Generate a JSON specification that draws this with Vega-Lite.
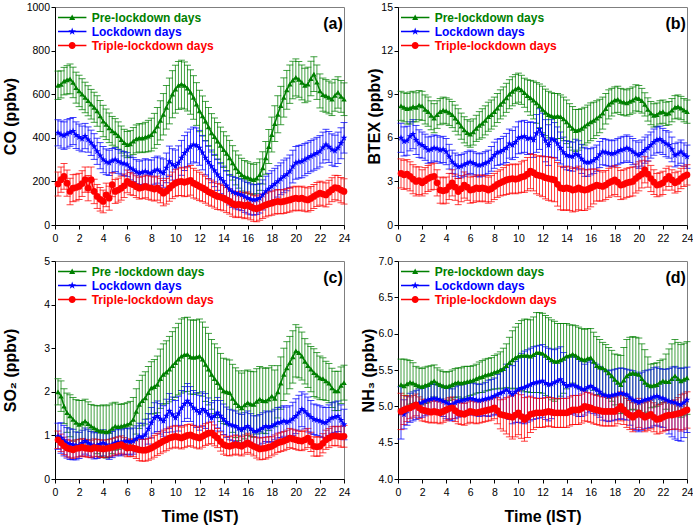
{
"$schema": "https://vega.github.io/schema/vega-lite/v6.json",
"padding": {"left": 1, "top": 1, "right": 0, "bottom": 0},
"config": {
  "font": "Liberation Sans",
  "view": {"stroke": "#7f7f7f", "strokeWidth": 1},
  "axis": {"grid": false, "labelFont": "Liberation Sans", "labelFontSize": 10.5, "labelColor": "#000", "titleFont": "Liberation Sans", "titleFontSize": 16, "titleFontWeight": "bold", "titleColor": "#000", "tickSize": 4, "tickColor": "#000", "domainColor": "#000", "labelFlush": false, "labelOverlap": false},
  "axisX": {"labelPadding": 4, "titlePadding": 11},
  "axisY": {"labelPadding": 1.5},
  "legend": {"orient": "top-left", "offset": 3, "title": null, "padding": 0, "symbolSize": 225, "symbolStrokeWidth": 0, "symbolOpacity": 1, "labelOffset": 18.7, "labelFontSize": 12, "labelFontWeight": "bold", "labelFont": "Liberation Sans", "rowPadding": 0}
},
"datasets": {
"a": [
{"t":0.25,"s":"P","m":641,"e":65},{"t":0.5,"s":"P","m":645,"e":62},{"t":0.75,"s":"P","m":660,"e":63},{"t":1,"s":"P","m":666,"e":65},{"t":1.25,"s":"P","m":670,"e":68},{"t":1.5,"s":"P","m":654,"e":70},{"t":1.75,"s":"P","m":630,"e":71},{"t":2,"s":"P","m":615,"e":72},{"t":2.25,"s":"P","m":600,"e":71},{"t":2.5,"s":"P","m":585,"e":70},{"t":2.75,"s":"P","m":570,"e":69},{"t":3,"s":"P","m":554,"e":68},{"t":3.25,"s":"P","m":540,"e":69},{"t":3.5,"s":"P","m":523,"e":70},{"t":3.75,"s":"P","m":500,"e":71},{"t":4,"s":"P","m":477,"e":72},{"t":4.25,"s":"P","m":462,"e":70},{"t":4.5,"s":"P","m":446,"e":68},{"t":4.75,"s":"P","m":432,"e":66},{"t":5,"s":"P","m":423,"e":65},{"t":5.25,"s":"P","m":410,"e":63},{"t":5.5,"s":"P","m":392,"e":62},{"t":5.75,"s":"P","m":378,"e":61},{"t":6,"s":"P","m":369,"e":60},{"t":6.25,"s":"P","m":372,"e":61},{"t":6.5,"s":"P","m":385,"e":62},{"t":6.75,"s":"P","m":395,"e":64},{"t":7,"s":"P","m":400,"e":65},{"t":7.25,"s":"P","m":398,"e":66},{"t":7.5,"s":"P","m":403,"e":68},{"t":7.75,"s":"P","m":408,"e":72},{"t":8,"s":"P","m":415,"e":75},{"t":8.25,"s":"P","m":432,"e":80},{"t":8.5,"s":"P","m":454,"e":85},{"t":8.75,"s":"P","m":480,"e":90},{"t":9,"s":"P","m":508,"e":95},{"t":9.25,"s":"P","m":540,"e":100},{"t":9.5,"s":"P","m":569,"e":105},{"t":9.75,"s":"P","m":600,"e":108},{"t":10,"s":"P","m":623,"e":110},{"t":10.25,"s":"P","m":640,"e":110},{"t":10.5,"s":"P","m":646,"e":110},{"t":10.75,"s":"P","m":640,"e":108},{"t":11,"s":"P","m":628,"e":105},{"t":11.25,"s":"P","m":610,"e":102},{"t":11.5,"s":"P","m":585,"e":100},{"t":11.75,"s":"P","m":555,"e":98},{"t":12,"s":"P","m":523,"e":95},{"t":12.25,"s":"P","m":500,"e":92},{"t":12.5,"s":"P","m":477,"e":90},{"t":12.75,"s":"P","m":450,"e":89},{"t":13,"s":"P","m":423,"e":88},{"t":13.25,"s":"P","m":405,"e":86},{"t":13.5,"s":"P","m":385,"e":85},{"t":13.75,"s":"P","m":365,"e":84},{"t":14,"s":"P","m":346,"e":82},{"t":14.25,"s":"P","m":328,"e":81},{"t":14.5,"s":"P","m":308,"e":80},{"t":14.75,"s":"P","m":285,"e":79},{"t":15,"s":"P","m":262,"e":78},{"t":15.25,"s":"P","m":245,"e":76},{"t":15.5,"s":"P","m":231,"e":75},{"t":15.75,"s":"P","m":222,"e":74},{"t":16,"s":"P","m":218,"e":72},{"t":16.25,"s":"P","m":212,"e":71},{"t":16.5,"s":"P","m":208,"e":70},{"t":16.75,"s":"P","m":215,"e":71},{"t":17,"s":"P","m":231,"e":72},{"t":17.25,"s":"P","m":262,"e":74},{"t":17.5,"s":"P","m":308,"e":75},{"t":17.75,"s":"P","m":360,"e":78},{"t":18,"s":"P","m":415,"e":80},{"t":18.25,"s":"P","m":465,"e":82},{"t":18.5,"s":"P","m":508,"e":85},{"t":18.75,"s":"P","m":548,"e":88},{"t":19,"s":"P","m":585,"e":90},{"t":19.25,"s":"P","m":620,"e":89},{"t":19.5,"s":"P","m":646,"e":88},{"t":19.75,"s":"P","m":665,"e":86},{"t":20,"s":"P","m":677,"e":85},{"t":20.25,"s":"P","m":668,"e":82},{"t":20.5,"s":"P","m":654,"e":80},{"t":20.75,"s":"P","m":640,"e":79},{"t":21,"s":"P","m":646,"e":78},{"t":21.25,"s":"P","m":672,"e":79},{"t":21.5,"s":"P","m":692,"e":80},{"t":21.75,"s":"P","m":655,"e":79},{"t":22,"s":"P","m":615,"e":78},{"t":22.25,"s":"P","m":598,"e":76},{"t":22.5,"s":"P","m":592,"e":75},{"t":22.75,"s":"P","m":585,"e":75},{"t":23,"s":"P","m":577,"e":75},{"t":23.25,"s":"P","m":595,"e":73},{"t":23.5,"s":"P","m":608,"e":72},{"t":23.75,"s":"P","m":590,"e":73},{"t":24,"s":"P","m":577,"e":75},
{"t":0.25,"s":"L","m":423,"e":60},{"t":0.5,"s":"L","m":415,"e":62},{"t":0.75,"s":"L","m":410,"e":63},{"t":1,"s":"L","m":418,"e":65},{"t":1.25,"s":"L","m":425,"e":64},{"t":1.5,"s":"L","m":431,"e":62},{"t":1.75,"s":"L","m":412,"e":61},{"t":2,"s":"L","m":403,"e":60},{"t":2.25,"s":"L","m":395,"e":59},{"t":2.5,"s":"L","m":408,"e":58},{"t":2.75,"s":"L","m":392,"e":58},{"t":3,"s":"L","m":377,"e":58},{"t":3.25,"s":"L","m":360,"e":59},{"t":3.5,"s":"L","m":338,"e":60},{"t":3.75,"s":"L","m":318,"e":60},{"t":4,"s":"L","m":300,"e":60},{"t":4.25,"s":"L","m":290,"e":59},{"t":4.5,"s":"L","m":285,"e":58},{"t":4.75,"s":"L","m":295,"e":56},{"t":5,"s":"L","m":300,"e":55},{"t":5.25,"s":"L","m":292,"e":55},{"t":5.5,"s":"L","m":285,"e":55},{"t":5.75,"s":"L","m":282,"e":55},{"t":6,"s":"L","m":277,"e":55},{"t":6.25,"s":"L","m":262,"e":55},{"t":6.5,"s":"L","m":254,"e":55},{"t":6.75,"s":"L","m":245,"e":55},{"t":7,"s":"L","m":238,"e":55},{"t":7.25,"s":"L","m":242,"e":56},{"t":7.5,"s":"L","m":246,"e":58},{"t":7.75,"s":"L","m":240,"e":59},{"t":8,"s":"L","m":238,"e":60},{"t":8.25,"s":"L","m":248,"e":61},{"t":8.5,"s":"L","m":254,"e":62},{"t":8.75,"s":"L","m":245,"e":63},{"t":9,"s":"L","m":238,"e":65},{"t":9.25,"s":"L","m":262,"e":68},{"t":9.5,"s":"L","m":292,"e":70},{"t":9.75,"s":"L","m":278,"e":72},{"t":10,"s":"L","m":269,"e":75},{"t":10.25,"s":"L","m":285,"e":78},{"t":10.5,"s":"L","m":308,"e":80},{"t":10.75,"s":"L","m":330,"e":80},{"t":11,"s":"L","m":346,"e":80},{"t":11.25,"s":"L","m":360,"e":80},{"t":11.5,"s":"L","m":369,"e":80},{"t":11.75,"s":"L","m":365,"e":80},{"t":12,"s":"L","m":354,"e":80},{"t":12.25,"s":"L","m":332,"e":79},{"t":12.5,"s":"L","m":308,"e":78},{"t":12.75,"s":"L","m":288,"e":76},{"t":13,"s":"L","m":269,"e":75},{"t":13.25,"s":"L","m":250,"e":74},{"t":13.5,"s":"L","m":231,"e":72},{"t":13.75,"s":"L","m":215,"e":71},{"t":14,"s":"L","m":200,"e":70},{"t":14.25,"s":"L","m":180,"e":70},{"t":14.5,"s":"L","m":162,"e":70},{"t":14.75,"s":"L","m":152,"e":71},{"t":15,"s":"L","m":146,"e":72},{"t":15.25,"s":"L","m":142,"e":72},{"t":15.5,"s":"L","m":138,"e":72},{"t":15.75,"s":"L","m":130,"e":72},{"t":16,"s":"L","m":123,"e":72},{"t":16.25,"s":"L","m":118,"e":71},{"t":16.5,"s":"L","m":115,"e":70},{"t":16.75,"s":"L","m":117,"e":69},{"t":17,"s":"L","m":123,"e":68},{"t":17.25,"s":"L","m":138,"e":69},{"t":17.5,"s":"L","m":154,"e":70},{"t":17.75,"s":"L","m":166,"e":71},{"t":18,"s":"L","m":177,"e":72},{"t":18.25,"s":"L","m":188,"e":72},{"t":18.5,"s":"L","m":200,"e":72},{"t":18.75,"s":"L","m":212,"e":73},{"t":19,"s":"L","m":223,"e":75},{"t":19.25,"s":"L","m":232,"e":75},{"t":19.5,"s":"L","m":246,"e":75},{"t":19.75,"s":"L","m":268,"e":75},{"t":20,"s":"L","m":285,"e":75},{"t":20.25,"s":"L","m":290,"e":75},{"t":20.5,"s":"L","m":292,"e":75},{"t":20.75,"s":"L","m":300,"e":74},{"t":21,"s":"L","m":308,"e":72},{"t":21.25,"s":"L","m":316,"e":72},{"t":21.5,"s":"L","m":323,"e":72},{"t":21.75,"s":"L","m":330,"e":72},{"t":22,"s":"L","m":338,"e":72},{"t":22.25,"s":"L","m":355,"e":71},{"t":22.5,"s":"L","m":369,"e":70},{"t":22.75,"s":"L","m":358,"e":71},{"t":23,"s":"L","m":346,"e":72},{"t":23.25,"s":"L","m":340,"e":72},{"t":23.5,"s":"L","m":354,"e":72},{"t":23.75,"s":"L","m":375,"e":71},{"t":24,"s":"L","m":400,"e":70},
{"t":0.25,"s":"T","m":188,"e":55},{"t":0.5,"s":"T","m":208,"e":58},{"t":0.75,"s":"T","m":223,"e":59},{"t":1,"s":"T","m":192,"e":60},{"t":1.25,"s":"T","m":154,"e":61},{"t":1.5,"s":"T","m":169,"e":62},{"t":1.75,"s":"T","m":172,"e":61},{"t":2,"s":"T","m":177,"e":60},{"t":2.25,"s":"T","m":190,"e":59},{"t":2.5,"s":"T","m":208,"e":58},{"t":2.75,"s":"T","m":169,"e":58},{"t":3,"s":"T","m":208,"e":58},{"t":3.25,"s":"T","m":154,"e":56},{"t":3.5,"s":"T","m":131,"e":55},{"t":3.75,"s":"T","m":118,"e":54},{"t":4,"s":"T","m":108,"e":52},{"t":4.25,"s":"T","m":138,"e":54},{"t":4.5,"s":"T","m":123,"e":55},{"t":4.75,"s":"T","m":185,"e":55},{"t":5,"s":"T","m":154,"e":55},{"t":5.25,"s":"T","m":160,"e":55},{"t":5.5,"s":"T","m":169,"e":55},{"t":5.75,"s":"T","m":180,"e":54},{"t":6,"s":"T","m":200,"e":52},{"t":6.25,"s":"T","m":190,"e":51},{"t":6.5,"s":"T","m":185,"e":50},{"t":6.75,"s":"T","m":176,"e":50},{"t":7,"s":"T","m":169,"e":50},{"t":7.25,"s":"T","m":172,"e":51},{"t":7.5,"s":"T","m":177,"e":52},{"t":7.75,"s":"T","m":172,"e":54},{"t":8,"s":"T","m":169,"e":55},{"t":8.25,"s":"T","m":165,"e":55},{"t":8.5,"s":"T","m":169,"e":55},{"t":8.75,"s":"T","m":158,"e":56},{"t":9,"s":"T","m":146,"e":58},{"t":9.25,"s":"T","m":155,"e":59},{"t":9.5,"s":"T","m":169,"e":60},{"t":9.75,"s":"T","m":182,"e":61},{"t":10,"s":"T","m":192,"e":62},{"t":10.25,"s":"T","m":198,"e":63},{"t":10.5,"s":"T","m":200,"e":65},{"t":10.75,"s":"T","m":196,"e":66},{"t":11,"s":"T","m":200,"e":68},{"t":11.25,"s":"T","m":205,"e":68},{"t":11.5,"s":"T","m":192,"e":68},{"t":11.75,"s":"T","m":185,"e":66},{"t":12,"s":"T","m":177,"e":65},{"t":12.25,"s":"T","m":170,"e":63},{"t":12.5,"s":"T","m":162,"e":62},{"t":12.75,"s":"T","m":152,"e":61},{"t":13,"s":"T","m":146,"e":60},{"t":13.25,"s":"T","m":138,"e":60},{"t":13.5,"s":"T","m":131,"e":60},{"t":13.75,"s":"T","m":128,"e":59},{"t":14,"s":"T","m":123,"e":58},{"t":14.25,"s":"T","m":115,"e":58},{"t":14.5,"s":"T","m":108,"e":58},{"t":14.75,"s":"T","m":98,"e":58},{"t":15,"s":"T","m":92,"e":58},{"t":15.25,"s":"T","m":95,"e":58},{"t":15.5,"s":"T","m":92,"e":58},{"t":15.75,"s":"T","m":88,"e":59},{"t":16,"s":"T","m":92,"e":60},{"t":16.25,"s":"T","m":84,"e":60},{"t":16.5,"s":"T","m":77,"e":60},{"t":16.75,"s":"T","m":74,"e":59},{"t":17,"s":"T","m":80,"e":58},{"t":17.25,"s":"T","m":86,"e":56},{"t":17.5,"s":"T","m":92,"e":55},{"t":17.75,"s":"T","m":97,"e":55},{"t":18,"s":"T","m":100,"e":55},{"t":18.25,"s":"T","m":105,"e":55},{"t":18.5,"s":"T","m":108,"e":55},{"t":18.75,"s":"T","m":106,"e":55},{"t":19,"s":"T","m":108,"e":55},{"t":19.25,"s":"T","m":112,"e":55},{"t":19.5,"s":"T","m":115,"e":55},{"t":19.75,"s":"T","m":120,"e":55},{"t":20,"s":"T","m":123,"e":55},{"t":20.25,"s":"T","m":120,"e":55},{"t":20.5,"s":"T","m":123,"e":55},{"t":20.75,"s":"T","m":118,"e":55},{"t":21,"s":"T","m":115,"e":55},{"t":21.25,"s":"T","m":122,"e":55},{"t":21.5,"s":"T","m":131,"e":55},{"t":21.75,"s":"T","m":140,"e":55},{"t":22,"s":"T","m":146,"e":55},{"t":22.25,"s":"T","m":142,"e":55},{"t":22.5,"s":"T","m":138,"e":55},{"t":22.75,"s":"T","m":150,"e":55},{"t":23,"s":"T","m":162,"e":55},{"t":23.25,"s":"T","m":172,"e":56},{"t":23.5,"s":"T","m":169,"e":58},{"t":23.75,"s":"T","m":160,"e":58},{"t":24,"s":"T","m":154,"e":58}
],
"b": [
{"t":0.25,"s":"P","m":8.2,"e":1.0},{"t":0.5,"s":"P","m":8.1,"e":1.0},{"t":0.75,"s":"P","m":8.0,"e":1.05},{"t":1,"s":"P","m":8.05,"e":1.1},{"t":1.25,"s":"P","m":8.15,"e":1.05},{"t":1.5,"s":"P","m":8.1,"e":1.0},{"t":1.75,"s":"P","m":8.25,"e":1.0},{"t":2,"s":"P","m":8.2,"e":1.0},{"t":2.25,"s":"P","m":7.95,"e":1.0},{"t":2.5,"s":"P","m":7.8,"e":1.0},{"t":2.75,"s":"P","m":7.55,"e":1.0},{"t":3,"s":"P","m":7.35,"e":1.0},{"t":3.25,"s":"P","m":7.6,"e":0.95},{"t":3.5,"s":"P","m":7.8,"e":0.9},{"t":3.75,"s":"P","m":7.9,"e":0.9},{"t":4,"s":"P","m":7.85,"e":0.9},{"t":4.25,"s":"P","m":7.75,"e":0.9},{"t":4.5,"s":"P","m":7.6,"e":0.9},{"t":4.75,"s":"P","m":7.35,"e":0.9},{"t":5,"s":"P","m":7.1,"e":0.9},{"t":5.25,"s":"P","m":6.8,"e":0.9},{"t":5.5,"s":"P","m":6.55,"e":0.9},{"t":5.75,"s":"P","m":6.35,"e":0.9},{"t":6,"s":"P","m":6.25,"e":0.9},{"t":6.25,"s":"P","m":6.4,"e":0.9},{"t":6.5,"s":"P","m":6.65,"e":0.9},{"t":6.75,"s":"P","m":6.85,"e":0.95},{"t":7,"s":"P","m":7.0,"e":1.0},{"t":7.25,"s":"P","m":7.2,"e":1.0},{"t":7.5,"s":"P","m":7.45,"e":1.0},{"t":7.75,"s":"P","m":7.6,"e":1.0},{"t":8,"s":"P","m":7.8,"e":1.0},{"t":8.25,"s":"P","m":8.05,"e":1.0},{"t":8.5,"s":"P","m":8.3,"e":1.0},{"t":8.75,"s":"P","m":8.5,"e":1.0},{"t":9,"s":"P","m":8.75,"e":1.0},{"t":9.25,"s":"P","m":9.0,"e":1.0},{"t":9.5,"s":"P","m":9.2,"e":1.0},{"t":9.75,"s":"P","m":9.35,"e":1.0},{"t":10,"s":"P","m":9.45,"e":1.0},{"t":10.25,"s":"P","m":9.3,"e":1.0},{"t":10.5,"s":"P","m":9.1,"e":1.0},{"t":10.75,"s":"P","m":8.9,"e":1.1},{"t":11,"s":"P","m":8.75,"e":1.2},{"t":11.25,"s":"P","m":8.6,"e":1.3},{"t":11.5,"s":"P","m":8.4,"e":1.4},{"t":11.75,"s":"P","m":8.2,"e":1.5},{"t":12,"s":"P","m":7.95,"e":1.6},{"t":12.25,"s":"P","m":7.75,"e":1.6},{"t":12.5,"s":"P","m":7.6,"e":1.6},{"t":12.75,"s":"P","m":7.5,"e":1.6},{"t":13,"s":"P","m":7.45,"e":1.6},{"t":13.25,"s":"P","m":7.5,"e":1.55},{"t":13.5,"s":"P","m":7.45,"e":1.5},{"t":13.75,"s":"P","m":7.3,"e":1.5},{"t":14,"s":"P","m":7.1,"e":1.5},{"t":14.25,"s":"P","m":6.85,"e":1.5},{"t":14.5,"s":"P","m":6.65,"e":1.5},{"t":14.75,"s":"P","m":6.5,"e":1.45},{"t":15,"s":"P","m":6.55,"e":1.4},{"t":15.25,"s":"P","m":6.65,"e":1.35},{"t":15.5,"s":"P","m":6.8,"e":1.3},{"t":15.75,"s":"P","m":6.95,"e":1.3},{"t":16,"s":"P","m":7.1,"e":1.3},{"t":16.25,"s":"P","m":7.2,"e":1.25},{"t":16.5,"s":"P","m":7.35,"e":1.2},{"t":16.75,"s":"P","m":7.5,"e":1.15},{"t":17,"s":"P","m":7.7,"e":1.1},{"t":17.25,"s":"P","m":8.0,"e":1.05},{"t":17.5,"s":"P","m":8.3,"e":1.0},{"t":17.75,"s":"P","m":8.45,"e":0.95},{"t":18,"s":"P","m":8.6,"e":0.9},{"t":18.25,"s":"P","m":8.65,"e":0.9},{"t":18.5,"s":"P","m":8.5,"e":0.9},{"t":18.75,"s":"P","m":8.45,"e":0.9},{"t":19,"s":"P","m":8.4,"e":0.9},{"t":19.25,"s":"P","m":8.5,"e":0.9},{"t":19.5,"s":"P","m":8.6,"e":0.9},{"t":19.75,"s":"P","m":8.75,"e":0.9},{"t":20,"s":"P","m":8.7,"e":0.9},{"t":20.25,"s":"P","m":8.55,"e":0.85},{"t":20.5,"s":"P","m":8.3,"e":0.8},{"t":20.75,"s":"P","m":7.95,"e":0.8},{"t":21,"s":"P","m":7.7,"e":0.8},{"t":21.25,"s":"P","m":7.55,"e":0.8},{"t":21.5,"s":"P","m":7.6,"e":0.8},{"t":21.75,"s":"P","m":7.75,"e":0.8},{"t":22,"s":"P","m":7.8,"e":0.8},{"t":22.25,"s":"P","m":7.65,"e":0.8},{"t":22.5,"s":"P","m":7.7,"e":0.8},{"t":22.75,"s":"P","m":7.9,"e":0.8},{"t":23,"s":"P","m":8.1,"e":0.8},{"t":23.25,"s":"P","m":8.15,"e":0.8},{"t":23.5,"s":"P","m":8.05,"e":0.8},{"t":23.75,"s":"P","m":7.9,"e":0.8},{"t":24,"s":"P","m":7.8,"e":0.8},
{"t":0.25,"s":"L","m":6.0,"e":1.0},{"t":0.5,"s":"L","m":5.75,"e":1.0},{"t":0.75,"s":"L","m":5.8,"e":1.0},{"t":1,"s":"L","m":6.1,"e":1.0},{"t":1.25,"s":"L","m":6.25,"e":1.0},{"t":1.5,"s":"L","m":5.85,"e":1.0},{"t":1.75,"s":"L","m":5.6,"e":0.95},{"t":2,"s":"L","m":5.5,"e":0.9},{"t":2.25,"s":"L","m":5.35,"e":0.9},{"t":2.5,"s":"L","m":5.15,"e":0.9},{"t":2.75,"s":"L","m":5.2,"e":0.9},{"t":3,"s":"L","m":5.3,"e":0.9},{"t":3.25,"s":"L","m":5.25,"e":0.9},{"t":3.5,"s":"L","m":5.15,"e":0.9},{"t":3.75,"s":"L","m":5.2,"e":0.9},{"t":4,"s":"L","m":5.05,"e":0.9},{"t":4.25,"s":"L","m":4.7,"e":0.85},{"t":4.5,"s":"L","m":4.35,"e":0.8},{"t":4.75,"s":"L","m":4.15,"e":0.8},{"t":5,"s":"L","m":4.0,"e":0.8},{"t":5.25,"s":"L","m":4.05,"e":0.8},{"t":5.5,"s":"L","m":4.15,"e":0.8},{"t":5.75,"s":"L","m":4.25,"e":0.8},{"t":6,"s":"L","m":4.35,"e":0.8},{"t":6.25,"s":"L","m":4.25,"e":0.8},{"t":6.5,"s":"L","m":4.15,"e":0.8},{"t":6.75,"s":"L","m":4.1,"e":0.8},{"t":7,"s":"L","m":4.15,"e":0.8},{"t":7.25,"s":"L","m":4.25,"e":0.8},{"t":7.5,"s":"L","m":4.35,"e":0.8},{"t":7.75,"s":"L","m":4.55,"e":0.85},{"t":8,"s":"L","m":4.8,"e":0.9},{"t":8.25,"s":"L","m":5.0,"e":0.9},{"t":8.5,"s":"L","m":5.05,"e":0.9},{"t":8.75,"s":"L","m":5.15,"e":0.95},{"t":9,"s":"L","m":5.3,"e":1.0},{"t":9.25,"s":"L","m":5.6,"e":1.0},{"t":9.5,"s":"L","m":5.5,"e":1.0},{"t":9.75,"s":"L","m":5.7,"e":1.05},{"t":10,"s":"L","m":6.0,"e":1.1},{"t":10.25,"s":"L","m":6.05,"e":1.1},{"t":10.5,"s":"L","m":6.1,"e":1.1},{"t":10.75,"s":"L","m":5.95,"e":1.1},{"t":11,"s":"L","m":6.0,"e":1.1},{"t":11.25,"s":"L","m":5.85,"e":1.2},{"t":11.5,"s":"L","m":6.3,"e":1.3},{"t":11.75,"s":"L","m":6.6,"e":1.4},{"t":12,"s":"L","m":6.2,"e":1.5},{"t":12.25,"s":"L","m":5.8,"e":1.45},{"t":12.5,"s":"L","m":5.5,"e":1.4},{"t":12.75,"s":"L","m":5.95,"e":1.3},{"t":13,"s":"L","m":5.85,"e":1.2},{"t":13.25,"s":"L","m":5.6,"e":1.15},{"t":13.5,"s":"L","m":5.3,"e":1.1},{"t":13.75,"s":"L","m":5.0,"e":1.05},{"t":14,"s":"L","m":4.8,"e":1.0},{"t":14.25,"s":"L","m":4.75,"e":1.0},{"t":14.5,"s":"L","m":4.7,"e":1.0},{"t":14.75,"s":"L","m":4.9,"e":1.0},{"t":15,"s":"L","m":4.8,"e":1.0},{"t":15.25,"s":"L","m":4.55,"e":1.0},{"t":15.5,"s":"L","m":4.35,"e":1.0},{"t":15.75,"s":"L","m":4.3,"e":0.95},{"t":16,"s":"L","m":4.35,"e":0.9},{"t":16.25,"s":"L","m":4.45,"e":0.9},{"t":16.5,"s":"L","m":4.6,"e":0.9},{"t":16.75,"s":"L","m":4.85,"e":0.9},{"t":17,"s":"L","m":5.05,"e":0.9},{"t":17.25,"s":"L","m":5.0,"e":0.9},{"t":17.5,"s":"L","m":4.95,"e":0.9},{"t":17.75,"s":"L","m":4.9,"e":0.9},{"t":18,"s":"L","m":4.95,"e":0.9},{"t":18.25,"s":"L","m":5.05,"e":0.9},{"t":18.5,"s":"L","m":5.15,"e":0.9},{"t":18.75,"s":"L","m":5.2,"e":0.9},{"t":19,"s":"L","m":5.3,"e":0.9},{"t":19.25,"s":"L","m":5.2,"e":0.9},{"t":19.5,"s":"L","m":5.05,"e":0.9},{"t":19.75,"s":"L","m":4.9,"e":0.9},{"t":20,"s":"L","m":4.8,"e":0.9},{"t":20.25,"s":"L","m":4.95,"e":0.9},{"t":20.5,"s":"L","m":5.15,"e":0.9},{"t":20.75,"s":"L","m":5.3,"e":0.9},{"t":21,"s":"L","m":5.5,"e":0.9},{"t":21.25,"s":"L","m":5.7,"e":0.9},{"t":21.5,"s":"L","m":5.85,"e":0.9},{"t":21.75,"s":"L","m":5.9,"e":0.9},{"t":22,"s":"L","m":5.75,"e":0.9},{"t":22.25,"s":"L","m":5.6,"e":0.9},{"t":22.5,"s":"L","m":5.5,"e":0.9},{"t":22.75,"s":"L","m":5.2,"e":0.85},{"t":23,"s":"L","m":4.8,"e":0.8},{"t":23.25,"s":"L","m":4.9,"e":0.8},{"t":23.5,"s":"L","m":5.05,"e":0.8},{"t":23.75,"s":"L","m":4.85,"e":0.8},{"t":24,"s":"L","m":4.7,"e":0.8},
{"t":0.25,"s":"T","m":3.55,"e":1.0},{"t":0.5,"s":"T","m":3.45,"e":1.0},{"t":0.75,"s":"T","m":3.5,"e":1.0},{"t":1,"s":"T","m":3.35,"e":1.0},{"t":1.25,"s":"T","m":3.15,"e":1.0},{"t":1.5,"s":"T","m":3.0,"e":1.0},{"t":1.75,"s":"T","m":3.05,"e":0.95},{"t":2,"s":"T","m":2.9,"e":0.9},{"t":2.25,"s":"T","m":3.05,"e":0.9},{"t":2.5,"s":"T","m":3.2,"e":0.9},{"t":2.75,"s":"T","m":3.3,"e":0.9},{"t":3,"s":"T","m":3.35,"e":0.9},{"t":3.25,"s":"T","m":2.9,"e":0.9},{"t":3.5,"s":"T","m":2.4,"e":0.9},{"t":3.75,"s":"T","m":2.35,"e":0.9},{"t":4,"s":"T","m":2.4,"e":0.9},{"t":4.25,"s":"T","m":2.65,"e":0.9},{"t":4.5,"s":"T","m":2.9,"e":0.9},{"t":4.75,"s":"T","m":2.6,"e":0.9},{"t":5,"s":"T","m":2.3,"e":0.9},{"t":5.25,"s":"T","m":2.5,"e":0.9},{"t":5.5,"s":"T","m":2.75,"e":0.9},{"t":5.75,"s":"T","m":2.6,"e":0.9},{"t":6,"s":"T","m":2.4,"e":0.9},{"t":6.25,"s":"T","m":2.45,"e":0.9},{"t":6.5,"s":"T","m":2.55,"e":0.9},{"t":6.75,"s":"T","m":2.5,"e":0.9},{"t":7,"s":"T","m":2.55,"e":0.9},{"t":7.25,"s":"T","m":2.5,"e":0.9},{"t":7.5,"s":"T","m":2.4,"e":0.9},{"t":7.75,"s":"T","m":2.5,"e":0.9},{"t":8,"s":"T","m":2.65,"e":0.9},{"t":8.25,"s":"T","m":2.8,"e":0.9},{"t":8.5,"s":"T","m":2.9,"e":0.9},{"t":8.75,"s":"T","m":3.0,"e":0.95},{"t":9,"s":"T","m":3.1,"e":1.0},{"t":9.25,"s":"T","m":3.15,"e":1.0},{"t":9.5,"s":"T","m":3.2,"e":1.0},{"t":9.75,"s":"T","m":3.15,"e":1.0},{"t":10,"s":"T","m":3.2,"e":1.0},{"t":10.25,"s":"T","m":3.3,"e":1.05},{"t":10.5,"s":"T","m":3.35,"e":1.1},{"t":10.75,"s":"T","m":3.5,"e":1.15},{"t":11,"s":"T","m":3.7,"e":1.2},{"t":11.25,"s":"T","m":3.6,"e":1.25},{"t":11.5,"s":"T","m":3.45,"e":1.3},{"t":11.75,"s":"T","m":3.4,"e":1.35},{"t":12,"s":"T","m":3.35,"e":1.4},{"t":12.25,"s":"T","m":3.25,"e":1.45},{"t":12.5,"s":"T","m":3.2,"e":1.5},{"t":12.75,"s":"T","m":3.15,"e":1.5},{"t":13,"s":"T","m":3.1,"e":1.5},{"t":13.25,"s":"T","m":2.8,"e":1.5},{"t":13.5,"s":"T","m":2.55,"e":1.5},{"t":13.75,"s":"T","m":2.5,"e":1.5},{"t":14,"s":"T","m":2.55,"e":1.5},{"t":14.25,"s":"T","m":2.5,"e":1.5},{"t":14.5,"s":"T","m":2.4,"e":1.5},{"t":14.75,"s":"T","m":2.45,"e":1.5},{"t":15,"s":"T","m":2.55,"e":1.5},{"t":15.25,"s":"T","m":2.45,"e":1.45},{"t":15.5,"s":"T","m":2.4,"e":1.4},{"t":15.75,"s":"T","m":2.45,"e":1.35},{"t":16,"s":"T","m":2.55,"e":1.3},{"t":16.25,"s":"T","m":2.65,"e":1.2},{"t":16.5,"s":"T","m":2.75,"e":1.1},{"t":16.75,"s":"T","m":2.7,"e":1.05},{"t":17,"s":"T","m":2.65,"e":1.0},{"t":17.25,"s":"T","m":2.75,"e":1.0},{"t":17.5,"s":"T","m":2.9,"e":1.0},{"t":17.75,"s":"T","m":3.0,"e":1.0},{"t":18,"s":"T","m":3.1,"e":1.0},{"t":18.25,"s":"T","m":2.95,"e":1.0},{"t":18.5,"s":"T","m":2.75,"e":1.0},{"t":18.75,"s":"T","m":2.8,"e":1.0},{"t":19,"s":"T","m":2.9,"e":1.0},{"t":19.25,"s":"T","m":2.95,"e":1.0},{"t":19.5,"s":"T","m":3.0,"e":1.0},{"t":19.75,"s":"T","m":3.2,"e":1.0},{"t":20,"s":"T","m":3.35,"e":1.0},{"t":20.25,"s":"T","m":3.5,"e":0.95},{"t":20.5,"s":"T","m":3.8,"e":0.9},{"t":20.75,"s":"T","m":3.5,"e":0.9},{"t":21,"s":"T","m":3.2,"e":0.9},{"t":21.25,"s":"T","m":2.95,"e":0.85},{"t":21.5,"s":"T","m":2.75,"e":0.8},{"t":21.75,"s":"T","m":2.8,"e":0.8},{"t":22,"s":"T","m":2.9,"e":0.8},{"t":22.25,"s":"T","m":3.15,"e":0.75},{"t":22.5,"s":"T","m":3.35,"e":0.7},{"t":22.75,"s":"T","m":3.1,"e":0.7},{"t":23,"s":"T","m":2.9,"e":0.7},{"t":23.25,"s":"T","m":3.0,"e":0.7},{"t":23.5,"s":"T","m":3.2,"e":0.7},{"t":23.75,"s":"T","m":3.35,"e":0.7},{"t":24,"s":"T","m":3.45,"e":0.7}
],
"c": [
{"t":0.25,"s":"P","m":2.0,"e":0.3},{"t":0.5,"s":"P","m":1.9,"e":0.35},{"t":0.75,"s":"P","m":1.67,"e":0.4},{"t":1,"s":"P","m":1.52,"e":0.45},{"t":1.25,"s":"P","m":1.45,"e":0.48},{"t":1.5,"s":"P","m":1.37,"e":0.5},{"t":1.75,"s":"P","m":1.3,"e":0.52},{"t":2,"s":"P","m":1.25,"e":0.55},{"t":2.25,"s":"P","m":1.28,"e":0.52},{"t":2.5,"s":"P","m":1.33,"e":0.5},{"t":2.75,"s":"P","m":1.27,"e":0.5},{"t":3,"s":"P","m":1.21,"e":0.5},{"t":3.25,"s":"P","m":1.17,"e":0.52},{"t":3.5,"s":"P","m":1.13,"e":0.55},{"t":3.75,"s":"P","m":1.1,"e":0.58},{"t":4,"s":"P","m":1.1,"e":0.6},{"t":4.25,"s":"P","m":1.08,"e":0.6},{"t":4.5,"s":"P","m":1.1,"e":0.6},{"t":4.75,"s":"P","m":1.16,"e":0.58},{"t":5,"s":"P","m":1.21,"e":0.55},{"t":5.25,"s":"P","m":1.2,"e":0.52},{"t":5.5,"s":"P","m":1.21,"e":0.5},{"t":5.75,"s":"P","m":1.23,"e":0.5},{"t":6,"s":"P","m":1.25,"e":0.5},{"t":6.25,"s":"P","m":1.28,"e":0.5},{"t":6.5,"s":"P","m":1.37,"e":0.5},{"t":6.75,"s":"P","m":1.55,"e":0.52},{"t":7,"s":"P","m":1.71,"e":0.55},{"t":7.25,"s":"P","m":1.8,"e":0.58},{"t":7.5,"s":"P","m":1.86,"e":0.6},{"t":7.75,"s":"P","m":1.98,"e":0.6},{"t":8,"s":"P","m":2.09,"e":0.6},{"t":8.25,"s":"P","m":2.12,"e":0.62},{"t":8.5,"s":"P","m":2.17,"e":0.65},{"t":8.75,"s":"P","m":2.3,"e":0.68},{"t":9,"s":"P","m":2.4,"e":0.7},{"t":9.25,"s":"P","m":2.45,"e":0.72},{"t":9.5,"s":"P","m":2.52,"e":0.75},{"t":9.75,"s":"P","m":2.6,"e":0.78},{"t":10,"s":"P","m":2.67,"e":0.8},{"t":10.25,"s":"P","m":2.75,"e":0.82},{"t":10.5,"s":"P","m":2.82,"e":0.85},{"t":10.75,"s":"P","m":2.85,"e":0.85},{"t":11,"s":"P","m":2.86,"e":0.85},{"t":11.25,"s":"P","m":2.8,"e":0.85},{"t":11.5,"s":"P","m":2.79,"e":0.85},{"t":11.75,"s":"P","m":2.8,"e":0.85},{"t":12,"s":"P","m":2.82,"e":0.85},{"t":12.25,"s":"P","m":2.75,"e":0.85},{"t":12.5,"s":"P","m":2.63,"e":0.85},{"t":12.75,"s":"P","m":2.52,"e":0.82},{"t":13,"s":"P","m":2.4,"e":0.8},{"t":13.25,"s":"P","m":2.3,"e":0.8},{"t":13.5,"s":"P","m":2.21,"e":0.8},{"t":13.75,"s":"P","m":2.1,"e":0.78},{"t":14,"s":"P","m":2.02,"e":0.75},{"t":14.25,"s":"P","m":2.0,"e":0.75},{"t":14.5,"s":"P","m":1.98,"e":0.75},{"t":14.75,"s":"P","m":1.85,"e":0.78},{"t":15,"s":"P","m":1.75,"e":0.8},{"t":15.25,"s":"P","m":1.68,"e":0.8},{"t":15.5,"s":"P","m":1.63,"e":0.8},{"t":15.75,"s":"P","m":1.7,"e":0.78},{"t":16,"s":"P","m":1.75,"e":0.75},{"t":16.25,"s":"P","m":1.72,"e":0.75},{"t":16.5,"s":"P","m":1.71,"e":0.75},{"t":16.75,"s":"P","m":1.78,"e":0.75},{"t":17,"s":"P","m":1.83,"e":0.75},{"t":17.25,"s":"P","m":1.8,"e":0.75},{"t":17.5,"s":"P","m":1.79,"e":0.75},{"t":17.75,"s":"P","m":1.83,"e":0.72},{"t":18,"s":"P","m":1.9,"e":0.7},{"t":18.25,"s":"P","m":1.85,"e":0.65},{"t":18.5,"s":"P","m":2.0,"e":0.6},{"t":18.75,"s":"P","m":2.2,"e":0.6},{"t":19,"s":"P","m":2.4,"e":0.6},{"t":19.25,"s":"P","m":2.55,"e":0.6},{"t":19.5,"s":"P","m":2.67,"e":0.6},{"t":19.75,"s":"P","m":2.8,"e":0.6},{"t":20,"s":"P","m":2.94,"e":0.6},{"t":20.25,"s":"P","m":2.9,"e":0.58},{"t":20.5,"s":"P","m":2.82,"e":0.55},{"t":20.75,"s":"P","m":2.7,"e":0.52},{"t":21,"s":"P","m":2.6,"e":0.5},{"t":21.25,"s":"P","m":2.52,"e":0.52},{"t":21.5,"s":"P","m":2.44,"e":0.55},{"t":21.75,"s":"P","m":2.38,"e":0.52},{"t":22,"s":"P","m":2.32,"e":0.5},{"t":22.25,"s":"P","m":2.3,"e":0.48},{"t":22.5,"s":"P","m":2.25,"e":0.45},{"t":22.75,"s":"P","m":2.2,"e":0.45},{"t":23,"s":"P","m":2.09,"e":0.45},{"t":23.25,"s":"P","m":2.02,"e":0.45},{"t":23.5,"s":"P","m":2.02,"e":0.45},{"t":23.75,"s":"P","m":2.15,"e":0.42},{"t":24,"s":"P","m":2.21,"e":0.4},
{"t":0.25,"s":"L","m":0.98,"e":0.3},{"t":0.5,"s":"L","m":0.94,"e":0.35},{"t":0.75,"s":"L","m":0.88,"e":0.35},{"t":1,"s":"L","m":0.83,"e":0.35},{"t":1.25,"s":"L","m":0.8,"e":0.35},{"t":1.5,"s":"L","m":0.79,"e":0.35},{"t":1.75,"s":"L","m":0.76,"e":0.32},{"t":2,"s":"L","m":0.77,"e":0.3},{"t":2.25,"s":"L","m":0.82,"e":0.3},{"t":2.5,"s":"L","m":0.87,"e":0.3},{"t":2.75,"s":"L","m":0.83,"e":0.3},{"t":3,"s":"L","m":0.79,"e":0.3},{"t":3.25,"s":"L","m":0.76,"e":0.3},{"t":3.5,"s":"L","m":0.77,"e":0.3},{"t":3.75,"s":"L","m":0.8,"e":0.3},{"t":4,"s":"L","m":0.83,"e":0.3},{"t":4.25,"s":"L","m":0.79,"e":0.3},{"t":4.5,"s":"L","m":0.75,"e":0.3},{"t":4.75,"s":"L","m":0.79,"e":0.3},{"t":5,"s":"L","m":0.83,"e":0.3},{"t":5.25,"s":"L","m":0.85,"e":0.3},{"t":5.5,"s":"L","m":0.83,"e":0.3},{"t":5.75,"s":"L","m":0.86,"e":0.3},{"t":6,"s":"L","m":0.87,"e":0.3},{"t":6.25,"s":"L","m":0.85,"e":0.3},{"t":6.5,"s":"L","m":0.87,"e":0.3},{"t":6.75,"s":"L","m":0.92,"e":0.3},{"t":7,"s":"L","m":0.98,"e":0.3},{"t":7.25,"s":"L","m":0.96,"e":0.32},{"t":7.5,"s":"L","m":1.02,"e":0.35},{"t":7.75,"s":"L","m":1.15,"e":0.35},{"t":8,"s":"L","m":1.29,"e":0.35},{"t":8.25,"s":"L","m":1.4,"e":0.35},{"t":8.5,"s":"L","m":1.44,"e":0.35},{"t":8.75,"s":"L","m":1.38,"e":0.35},{"t":9,"s":"L","m":1.33,"e":0.35},{"t":9.25,"s":"L","m":1.45,"e":0.38},{"t":9.5,"s":"L","m":1.56,"e":0.4},{"t":9.75,"s":"L","m":1.48,"e":0.4},{"t":10,"s":"L","m":1.4,"e":0.4},{"t":10.25,"s":"L","m":1.5,"e":0.4},{"t":10.5,"s":"L","m":1.63,"e":0.4},{"t":10.75,"s":"L","m":1.72,"e":0.4},{"t":11,"s":"L","m":1.79,"e":0.4},{"t":11.25,"s":"L","m":1.72,"e":0.4},{"t":11.5,"s":"L","m":1.63,"e":0.4},{"t":11.75,"s":"L","m":1.58,"e":0.4},{"t":12,"s":"L","m":1.52,"e":0.4},{"t":12.25,"s":"L","m":1.6,"e":0.4},{"t":12.5,"s":"L","m":1.56,"e":0.4},{"t":12.75,"s":"L","m":1.48,"e":0.38},{"t":13,"s":"L","m":1.4,"e":0.35},{"t":13.25,"s":"L","m":1.45,"e":0.35},{"t":13.5,"s":"L","m":1.52,"e":0.35},{"t":13.75,"s":"L","m":1.45,"e":0.35},{"t":14,"s":"L","m":1.37,"e":0.35},{"t":14.25,"s":"L","m":1.3,"e":0.35},{"t":14.5,"s":"L","m":1.25,"e":0.35},{"t":14.75,"s":"L","m":1.23,"e":0.35},{"t":15,"s":"L","m":1.21,"e":0.35},{"t":15.25,"s":"L","m":1.16,"e":0.35},{"t":15.5,"s":"L","m":1.13,"e":0.35},{"t":15.75,"s":"L","m":1.17,"e":0.35},{"t":16,"s":"L","m":1.21,"e":0.35},{"t":16.25,"s":"L","m":1.15,"e":0.35},{"t":16.5,"s":"L","m":1.1,"e":0.35},{"t":16.75,"s":"L","m":1.1,"e":0.35},{"t":17,"s":"L","m":1.13,"e":0.35},{"t":17.25,"s":"L","m":1.17,"e":0.35},{"t":17.5,"s":"L","m":1.21,"e":0.35},{"t":17.75,"s":"L","m":1.19,"e":0.35},{"t":18,"s":"L","m":1.21,"e":0.35},{"t":18.25,"s":"L","m":1.25,"e":0.35},{"t":18.5,"s":"L","m":1.29,"e":0.35},{"t":18.75,"s":"L","m":1.3,"e":0.35},{"t":19,"s":"L","m":1.33,"e":0.35},{"t":19.25,"s":"L","m":1.3,"e":0.35},{"t":19.5,"s":"L","m":1.33,"e":0.35},{"t":19.75,"s":"L","m":1.38,"e":0.38},{"t":20,"s":"L","m":1.44,"e":0.4},{"t":20.25,"s":"L","m":1.52,"e":0.4},{"t":20.5,"s":"L","m":1.6,"e":0.4},{"t":20.75,"s":"L","m":1.55,"e":0.4},{"t":21,"s":"L","m":1.48,"e":0.4},{"t":21.25,"s":"L","m":1.42,"e":0.38},{"t":21.5,"s":"L","m":1.37,"e":0.35},{"t":21.75,"s":"L","m":1.35,"e":0.35},{"t":22,"s":"L","m":1.33,"e":0.35},{"t":22.25,"s":"L","m":1.3,"e":0.35},{"t":22.5,"s":"L","m":1.29,"e":0.35},{"t":22.75,"s":"L","m":1.35,"e":0.35},{"t":23,"s":"L","m":1.4,"e":0.35},{"t":23.25,"s":"L","m":1.42,"e":0.35},{"t":23.5,"s":"L","m":1.44,"e":0.35},{"t":23.75,"s":"L","m":1.35,"e":0.35},{"t":24,"s":"L","m":1.25,"e":0.35},
{"t":0.25,"s":"T","m":0.9,"e":0.2},{"t":0.5,"s":"T","m":0.83,"e":0.2},{"t":0.75,"s":"T","m":0.76,"e":0.2},{"t":1,"s":"T","m":0.71,"e":0.2},{"t":1.25,"s":"T","m":0.69,"e":0.2},{"t":1.5,"s":"T","m":0.67,"e":0.2},{"t":1.75,"s":"T","m":0.7,"e":0.2},{"t":2,"s":"T","m":0.71,"e":0.2},{"t":2.25,"s":"T","m":0.73,"e":0.2},{"t":2.5,"s":"T","m":0.71,"e":0.2},{"t":2.75,"s":"T","m":0.7,"e":0.2},{"t":3,"s":"T","m":0.69,"e":0.2},{"t":3.25,"s":"T","m":0.72,"e":0.2},{"t":3.5,"s":"T","m":0.71,"e":0.2},{"t":3.75,"s":"T","m":0.7,"e":0.2},{"t":4,"s":"T","m":0.69,"e":0.2},{"t":4.25,"s":"T","m":0.7,"e":0.2},{"t":4.5,"s":"T","m":0.71,"e":0.2},{"t":4.75,"s":"T","m":0.73,"e":0.2},{"t":5,"s":"T","m":0.75,"e":0.2},{"t":5.25,"s":"T","m":0.77,"e":0.2},{"t":5.5,"s":"T","m":0.79,"e":0.2},{"t":5.75,"s":"T","m":0.75,"e":0.2},{"t":6,"s":"T","m":0.71,"e":0.2},{"t":6.25,"s":"T","m":0.72,"e":0.2},{"t":6.5,"s":"T","m":0.71,"e":0.2},{"t":6.75,"s":"T","m":0.69,"e":0.22},{"t":7,"s":"T","m":0.67,"e":0.25},{"t":7.25,"s":"T","m":0.66,"e":0.25},{"t":7.5,"s":"T","m":0.66,"e":0.25},{"t":7.75,"s":"T","m":0.68,"e":0.25},{"t":8,"s":"T","m":0.71,"e":0.25},{"t":8.25,"s":"T","m":0.75,"e":0.25},{"t":8.5,"s":"T","m":0.79,"e":0.25},{"t":8.75,"s":"T","m":0.83,"e":0.25},{"t":9,"s":"T","m":0.87,"e":0.25},{"t":9.25,"s":"T","m":0.9,"e":0.25},{"t":9.5,"s":"T","m":0.94,"e":0.25},{"t":9.75,"s":"T","m":0.96,"e":0.25},{"t":10,"s":"T","m":0.98,"e":0.25},{"t":10.25,"s":"T","m":0.96,"e":0.25},{"t":10.5,"s":"T","m":0.94,"e":0.25},{"t":10.75,"s":"T","m":0.97,"e":0.25},{"t":11,"s":"T","m":1.0,"e":0.25},{"t":11.25,"s":"T","m":1.01,"e":0.25},{"t":11.5,"s":"T","m":0.98,"e":0.25},{"t":11.75,"s":"T","m":0.96,"e":0.25},{"t":12,"s":"T","m":0.94,"e":0.25},{"t":12.25,"s":"T","m":0.98,"e":0.25},{"t":12.5,"s":"T","m":1.02,"e":0.25},{"t":12.75,"s":"T","m":1.05,"e":0.25},{"t":13,"s":"T","m":1.06,"e":0.25},{"t":13.25,"s":"T","m":1.0,"e":0.24},{"t":13.5,"s":"T","m":0.94,"e":0.22},{"t":13.75,"s":"T","m":0.86,"e":0.22},{"t":14,"s":"T","m":0.79,"e":0.22},{"t":14.25,"s":"T","m":0.76,"e":0.22},{"t":14.5,"s":"T","m":0.75,"e":0.22},{"t":14.75,"s":"T","m":0.77,"e":0.22},{"t":15,"s":"T","m":0.79,"e":0.22},{"t":15.25,"s":"T","m":0.77,"e":0.22},{"t":15.5,"s":"T","m":0.75,"e":0.22},{"t":15.75,"s":"T","m":0.79,"e":0.22},{"t":16,"s":"T","m":0.83,"e":0.22},{"t":16.25,"s":"T","m":0.79,"e":0.22},{"t":16.5,"s":"T","m":0.75,"e":0.22},{"t":16.75,"s":"T","m":0.72,"e":0.24},{"t":17,"s":"T","m":0.69,"e":0.25},{"t":17.25,"s":"T","m":0.7,"e":0.25},{"t":17.5,"s":"T","m":0.71,"e":0.25},{"t":17.75,"s":"T","m":0.73,"e":0.24},{"t":18,"s":"T","m":0.75,"e":0.22},{"t":18.25,"s":"T","m":0.79,"e":0.22},{"t":18.5,"s":"T","m":0.83,"e":0.22},{"t":18.75,"s":"T","m":0.85,"e":0.22},{"t":19,"s":"T","m":0.87,"e":0.22},{"t":19.25,"s":"T","m":0.9,"e":0.22},{"t":19.5,"s":"T","m":0.94,"e":0.22},{"t":19.75,"s":"T","m":0.92,"e":0.22},{"t":20,"s":"T","m":0.9,"e":0.22},{"t":20.25,"s":"T","m":0.88,"e":0.22},{"t":20.5,"s":"T","m":0.87,"e":0.22},{"t":20.75,"s":"T","m":0.9,"e":0.22},{"t":21,"s":"T","m":0.94,"e":0.22},{"t":21.25,"s":"T","m":0.85,"e":0.22},{"t":21.5,"s":"T","m":0.75,"e":0.22},{"t":21.75,"s":"T","m":0.74,"e":0.22},{"t":22,"s":"T","m":0.75,"e":0.22},{"t":22.25,"s":"T","m":0.82,"e":0.22},{"t":22.5,"s":"T","m":0.9,"e":0.22},{"t":22.75,"s":"T","m":0.94,"e":0.22},{"t":23,"s":"T","m":0.98,"e":0.22},{"t":23.25,"s":"T","m":0.99,"e":0.22},{"t":23.5,"s":"T","m":0.98,"e":0.22},{"t":23.75,"s":"T","m":0.97,"e":0.24},{"t":24,"s":"T","m":0.98,"e":0.25}
],
"d": [
{"t":0.25,"s":"P","m":5.3,"e":0.35},{"t":0.5,"s":"P","m":5.28,"e":0.37},{"t":0.75,"s":"P","m":5.31,"e":0.33},{"t":1,"s":"P","m":5.33,"e":0.3},{"t":1.25,"s":"P","m":5.32,"e":0.28},{"t":1.5,"s":"P","m":5.3,"e":0.25},{"t":1.75,"s":"P","m":5.28,"e":0.25},{"t":2,"s":"P","m":5.27,"e":0.25},{"t":2.25,"s":"P","m":5.29,"e":0.25},{"t":2.5,"s":"P","m":5.3,"e":0.25},{"t":2.75,"s":"P","m":5.33,"e":0.23},{"t":3,"s":"P","m":5.35,"e":0.22},{"t":3.25,"s":"P","m":5.32,"e":0.21},{"t":3.5,"s":"P","m":5.3,"e":0.2},{"t":3.75,"s":"P","m":5.28,"e":0.2},{"t":4,"s":"P","m":5.27,"e":0.2},{"t":4.25,"s":"P","m":5.28,"e":0.2},{"t":4.5,"s":"P","m":5.3,"e":0.2},{"t":4.75,"s":"P","m":5.32,"e":0.2},{"t":5,"s":"P","m":5.33,"e":0.2},{"t":5.25,"s":"P","m":5.32,"e":0.21},{"t":5.5,"s":"P","m":5.33,"e":0.22},{"t":5.75,"s":"P","m":5.34,"e":0.21},{"t":6,"s":"P","m":5.35,"e":0.2},{"t":6.25,"s":"P","m":5.36,"e":0.2},{"t":6.5,"s":"P","m":5.38,"e":0.2},{"t":6.75,"s":"P","m":5.4,"e":0.21},{"t":7,"s":"P","m":5.41,"e":0.22},{"t":7.25,"s":"P","m":5.43,"e":0.22},{"t":7.5,"s":"P","m":5.44,"e":0.22},{"t":7.75,"s":"P","m":5.45,"e":0.22},{"t":8,"s":"P","m":5.47,"e":0.23},{"t":8.25,"s":"P","m":5.48,"e":0.24},{"t":8.5,"s":"P","m":5.5,"e":0.25},{"t":8.75,"s":"P","m":5.52,"e":0.28},{"t":9,"s":"P","m":5.56,"e":0.3},{"t":9.25,"s":"P","m":5.6,"e":0.35},{"t":9.5,"s":"P","m":5.64,"e":0.4},{"t":9.75,"s":"P","m":5.67,"e":0.42},{"t":10,"s":"P","m":5.69,"e":0.45},{"t":10.25,"s":"P","m":5.7,"e":0.48},{"t":10.5,"s":"P","m":5.7,"e":0.5},{"t":10.75,"s":"P","m":5.7,"e":0.5},{"t":11,"s":"P","m":5.69,"e":0.5},{"t":11.25,"s":"P","m":5.71,"e":0.52},{"t":11.5,"s":"P","m":5.74,"e":0.55},{"t":11.75,"s":"P","m":5.74,"e":0.55},{"t":12,"s":"P","m":5.73,"e":0.55},{"t":12.25,"s":"P","m":5.7,"e":0.55},{"t":12.5,"s":"P","m":5.67,"e":0.55},{"t":12.75,"s":"P","m":5.64,"e":0.55},{"t":13,"s":"P","m":5.62,"e":0.55},{"t":13.25,"s":"P","m":5.62,"e":0.52},{"t":13.5,"s":"P","m":5.64,"e":0.5},{"t":13.75,"s":"P","m":5.66,"e":0.48},{"t":14,"s":"P","m":5.69,"e":0.45},{"t":14.25,"s":"P","m":5.7,"e":0.42},{"t":14.5,"s":"P","m":5.72,"e":0.4},{"t":14.75,"s":"P","m":5.7,"e":0.41},{"t":15,"s":"P","m":5.67,"e":0.42},{"t":15.25,"s":"P","m":5.65,"e":0.42},{"t":15.5,"s":"P","m":5.64,"e":0.42},{"t":15.75,"s":"P","m":5.66,"e":0.41},{"t":16,"s":"P","m":5.67,"e":0.4},{"t":16.25,"s":"P","m":5.62,"e":0.4},{"t":16.5,"s":"P","m":5.56,"e":0.4},{"t":16.75,"s":"P","m":5.54,"e":0.38},{"t":17,"s":"P","m":5.53,"e":0.35},{"t":17.25,"s":"P","m":5.5,"e":0.35},{"t":17.5,"s":"P","m":5.46,"e":0.35},{"t":17.75,"s":"P","m":5.42,"e":0.35},{"t":18,"s":"P","m":5.37,"e":0.35},{"t":18.25,"s":"P","m":5.33,"e":0.38},{"t":18.5,"s":"P","m":5.3,"e":0.4},{"t":18.75,"s":"P","m":5.36,"e":0.45},{"t":19,"s":"P","m":5.42,"e":0.5},{"t":19.25,"s":"P","m":5.45,"e":0.5},{"t":19.5,"s":"P","m":5.46,"e":0.5},{"t":19.75,"s":"P","m":5.45,"e":0.5},{"t":20,"s":"P","m":5.44,"e":0.5},{"t":20.25,"s":"P","m":5.38,"e":0.48},{"t":20.5,"s":"P","m":5.33,"e":0.45},{"t":20.75,"s":"P","m":5.3,"e":0.38},{"t":21,"s":"P","m":5.28,"e":0.3},{"t":21.25,"s":"P","m":5.29,"e":0.3},{"t":21.5,"s":"P","m":5.3,"e":0.3},{"t":21.75,"s":"P","m":5.33,"e":0.3},{"t":22,"s":"P","m":5.35,"e":0.3},{"t":22.25,"s":"P","m":5.34,"e":0.38},{"t":22.5,"s":"P","m":5.34,"e":0.45},{"t":22.75,"s":"P","m":5.38,"e":0.48},{"t":23,"s":"P","m":5.42,"e":0.5},{"t":23.25,"s":"P","m":5.38,"e":0.5},{"t":23.5,"s":"P","m":5.35,"e":0.5},{"t":23.75,"s":"P","m":5.37,"e":0.5},{"t":24,"s":"P","m":5.39,"e":0.5},
{"t":0.25,"s":"L","m":4.91,"e":0.36},{"t":0.5,"s":"L","m":4.89,"e":0.2},{"t":0.75,"s":"L","m":4.94,"e":0.2},{"t":1,"s":"L","m":4.98,"e":0.2},{"t":1.25,"s":"L","m":5.0,"e":0.2},{"t":1.5,"s":"L","m":5.02,"e":0.2},{"t":1.75,"s":"L","m":5.04,"e":0.2},{"t":2,"s":"L","m":5.05,"e":0.2},{"t":2.25,"s":"L","m":5.07,"e":0.2},{"t":2.5,"s":"L","m":5.09,"e":0.2},{"t":2.75,"s":"L","m":5.1,"e":0.2},{"t":3,"s":"L","m":5.11,"e":0.2},{"t":3.25,"s":"L","m":5.1,"e":0.2},{"t":3.5,"s":"L","m":5.09,"e":0.2},{"t":3.75,"s":"L","m":5.07,"e":0.21},{"t":4,"s":"L","m":5.05,"e":0.22},{"t":4.25,"s":"L","m":5.03,"e":0.22},{"t":4.5,"s":"L","m":5.02,"e":0.22},{"t":4.75,"s":"L","m":5.05,"e":0.22},{"t":5,"s":"L","m":5.07,"e":0.22},{"t":5.25,"s":"L","m":5.08,"e":0.22},{"t":5.5,"s":"L","m":5.09,"e":0.22},{"t":5.75,"s":"L","m":5.1,"e":0.22},{"t":6,"s":"L","m":5.11,"e":0.22},{"t":6.25,"s":"L","m":5.1,"e":0.22},{"t":6.5,"s":"L","m":5.09,"e":0.22},{"t":6.75,"s":"L","m":5.08,"e":0.22},{"t":7,"s":"L","m":5.09,"e":0.22},{"t":7.25,"s":"L","m":5.1,"e":0.23},{"t":7.5,"s":"L","m":5.11,"e":0.25},{"t":7.75,"s":"L","m":5.12,"e":0.25},{"t":8,"s":"L","m":5.14,"e":0.25},{"t":8.25,"s":"L","m":5.16,"e":0.28},{"t":8.5,"s":"L","m":5.18,"e":0.3},{"t":8.75,"s":"L","m":5.2,"e":0.32},{"t":9,"s":"L","m":5.23,"e":0.35},{"t":9.25,"s":"L","m":5.2,"e":0.38},{"t":9.5,"s":"L","m":5.16,"e":0.4},{"t":9.75,"s":"L","m":5.2,"e":0.42},{"t":10,"s":"L","m":5.23,"e":0.45},{"t":10.25,"s":"L","m":5.25,"e":0.48},{"t":10.5,"s":"L","m":5.26,"e":0.5},{"t":10.75,"s":"L","m":5.28,"e":0.5},{"t":11,"s":"L","m":5.3,"e":0.5},{"t":11.25,"s":"L","m":5.32,"e":0.5},{"t":11.5,"s":"L","m":5.33,"e":0.5},{"t":11.75,"s":"L","m":5.34,"e":0.5},{"t":12,"s":"L","m":5.35,"e":0.5},{"t":12.25,"s":"L","m":5.32,"e":0.5},{"t":12.5,"s":"L","m":5.3,"e":0.5},{"t":12.75,"s":"L","m":5.31,"e":0.48},{"t":13,"s":"L","m":5.33,"e":0.45},{"t":13.25,"s":"L","m":5.35,"e":0.45},{"t":13.5,"s":"L","m":5.37,"e":0.45},{"t":13.75,"s":"L","m":5.32,"e":0.42},{"t":14,"s":"L","m":5.28,"e":0.4},{"t":14.25,"s":"L","m":5.29,"e":0.4},{"t":14.5,"s":"L","m":5.3,"e":0.4},{"t":14.75,"s":"L","m":5.28,"e":0.4},{"t":15,"s":"L","m":5.26,"e":0.4},{"t":15.25,"s":"L","m":5.24,"e":0.38},{"t":15.5,"s":"L","m":5.23,"e":0.35},{"t":15.75,"s":"L","m":5.26,"e":0.35},{"t":16,"s":"L","m":5.28,"e":0.35},{"t":16.25,"s":"L","m":5.25,"e":0.35},{"t":16.5,"s":"L","m":5.23,"e":0.35},{"t":16.75,"s":"L","m":5.2,"e":0.35},{"t":17,"s":"L","m":5.16,"e":0.35},{"t":17.25,"s":"L","m":5.15,"e":0.35},{"t":17.5,"s":"L","m":5.14,"e":0.35},{"t":17.75,"s":"L","m":5.15,"e":0.35},{"t":18,"s":"L","m":5.16,"e":0.35},{"t":18.25,"s":"L","m":5.17,"e":0.35},{"t":18.5,"s":"L","m":5.18,"e":0.35},{"t":18.75,"s":"L","m":5.17,"e":0.35},{"t":19,"s":"L","m":5.16,"e":0.35},{"t":19.25,"s":"L","m":5.12,"e":0.38},{"t":19.5,"s":"L","m":5.09,"e":0.4},{"t":19.75,"s":"L","m":5.07,"e":0.4},{"t":20,"s":"L","m":5.05,"e":0.4},{"t":20.25,"s":"L","m":5.07,"e":0.4},{"t":20.5,"s":"L","m":5.09,"e":0.4},{"t":20.75,"s":"L","m":5.1,"e":0.4},{"t":21,"s":"L","m":5.11,"e":0.4},{"t":21.25,"s":"L","m":5.13,"e":0.4},{"t":21.5,"s":"L","m":5.14,"e":0.4},{"t":21.75,"s":"L","m":5.12,"e":0.4},{"t":22,"s":"L","m":5.11,"e":0.4},{"t":22.25,"s":"L","m":5.09,"e":0.42},{"t":22.5,"s":"L","m":5.07,"e":0.45},{"t":22.75,"s":"L","m":5.06,"e":0.48},{"t":23,"s":"L","m":5.05,"e":0.5},{"t":23.25,"s":"L","m":5.03,"e":0.5},{"t":23.5,"s":"L","m":5.02,"e":0.5},{"t":23.75,"s":"L","m":5.05,"e":0.48},{"t":24,"s":"L","m":5.09,"e":0.45},
{"t":0.25,"s":"T","m":4.93,"e":0.25},{"t":0.5,"s":"T","m":4.95,"e":0.2},{"t":0.75,"s":"T","m":4.97,"e":0.18},{"t":1,"s":"T","m":4.98,"e":0.15},{"t":1.25,"s":"T","m":5.0,"e":0.15},{"t":1.5,"s":"T","m":5.02,"e":0.15},{"t":1.75,"s":"T","m":4.98,"e":0.15},{"t":2,"s":"T","m":4.95,"e":0.15},{"t":2.25,"s":"T","m":4.94,"e":0.15},{"t":2.5,"s":"T","m":4.93,"e":0.15},{"t":2.75,"s":"T","m":4.92,"e":0.15},{"t":3,"s":"T","m":4.93,"e":0.15},{"t":3.25,"s":"T","m":4.92,"e":0.15},{"t":3.5,"s":"T","m":4.91,"e":0.15},{"t":3.75,"s":"T","m":4.93,"e":0.15},{"t":4,"s":"T","m":4.95,"e":0.15},{"t":4.25,"s":"T","m":4.97,"e":0.15},{"t":4.5,"s":"T","m":4.98,"e":0.15},{"t":4.75,"s":"T","m":4.94,"e":0.15},{"t":5,"s":"T","m":4.91,"e":0.15},{"t":5.25,"s":"T","m":4.9,"e":0.15},{"t":5.5,"s":"T","m":4.89,"e":0.15},{"t":5.75,"s":"T","m":4.91,"e":0.15},{"t":6,"s":"T","m":4.93,"e":0.15},{"t":6.25,"s":"T","m":4.92,"e":0.15},{"t":6.5,"s":"T","m":4.91,"e":0.15},{"t":6.75,"s":"T","m":4.92,"e":0.15},{"t":7,"s":"T","m":4.93,"e":0.15},{"t":7.25,"s":"T","m":4.94,"e":0.15},{"t":7.5,"s":"T","m":4.95,"e":0.15},{"t":7.75,"s":"T","m":4.96,"e":0.15},{"t":8,"s":"T","m":4.98,"e":0.15},{"t":8.25,"s":"T","m":4.94,"e":0.18},{"t":8.5,"s":"T","m":4.89,"e":0.2},{"t":8.75,"s":"T","m":4.88,"e":0.22},{"t":9,"s":"T","m":4.87,"e":0.25},{"t":9.25,"s":"T","m":4.86,"e":0.28},{"t":9.5,"s":"T","m":4.85,"e":0.3},{"t":9.75,"s":"T","m":4.88,"e":0.3},{"t":10,"s":"T","m":4.91,"e":0.3},{"t":10.25,"s":"T","m":4.86,"e":0.3},{"t":10.5,"s":"T","m":4.82,"e":0.3},{"t":10.75,"s":"T","m":4.85,"e":0.28},{"t":11,"s":"T","m":4.89,"e":0.25},{"t":11.25,"s":"T","m":4.9,"e":0.22},{"t":11.5,"s":"T","m":4.91,"e":0.2},{"t":11.75,"s":"T","m":4.91,"e":0.2},{"t":12,"s":"T","m":4.91,"e":0.2},{"t":12.25,"s":"T","m":4.92,"e":0.2},{"t":12.5,"s":"T","m":4.93,"e":0.2},{"t":12.75,"s":"T","m":4.92,"e":0.2},{"t":13,"s":"T","m":4.91,"e":0.2},{"t":13.25,"s":"T","m":4.91,"e":0.2},{"t":13.5,"s":"T","m":4.91,"e":0.2},{"t":13.75,"s":"T","m":4.91,"e":0.2},{"t":14,"s":"T","m":4.91,"e":0.2},{"t":14.25,"s":"T","m":4.93,"e":0.2},{"t":14.5,"s":"T","m":4.95,"e":0.2},{"t":14.75,"s":"T","m":4.95,"e":0.2},{"t":15,"s":"T","m":4.95,"e":0.2},{"t":15.25,"s":"T","m":4.97,"e":0.2},{"t":15.5,"s":"T","m":5.0,"e":0.2},{"t":15.75,"s":"T","m":4.99,"e":0.2},{"t":16,"s":"T","m":4.98,"e":0.2},{"t":16.25,"s":"T","m":4.96,"e":0.2},{"t":16.5,"s":"T","m":4.95,"e":0.2},{"t":16.75,"s":"T","m":4.94,"e":0.2},{"t":17,"s":"T","m":4.93,"e":0.2},{"t":17.25,"s":"T","m":4.93,"e":0.2},{"t":17.5,"s":"T","m":4.93,"e":0.2},{"t":17.75,"s":"T","m":4.93,"e":0.2},{"t":18,"s":"T","m":4.93,"e":0.2},{"t":18.25,"s":"T","m":4.96,"e":0.2},{"t":18.5,"s":"T","m":5.0,"e":0.2},{"t":18.75,"s":"T","m":4.95,"e":0.2},{"t":19,"s":"T","m":4.91,"e":0.2},{"t":19.25,"s":"T","m":4.88,"e":0.2},{"t":19.5,"s":"T","m":4.85,"e":0.2},{"t":19.75,"s":"T","m":4.88,"e":0.2},{"t":20,"s":"T","m":4.91,"e":0.2},{"t":20.25,"s":"T","m":4.88,"e":0.2},{"t":20.5,"s":"T","m":4.85,"e":0.2},{"t":20.75,"s":"T","m":4.87,"e":0.2},{"t":21,"s":"T","m":4.89,"e":0.2},{"t":21.25,"s":"T","m":4.85,"e":0.2},{"t":21.5,"s":"T","m":4.82,"e":0.2},{"t":21.75,"s":"T","m":4.83,"e":0.2},{"t":22,"s":"T","m":4.85,"e":0.2},{"t":22.25,"s":"T","m":4.87,"e":0.2},{"t":22.5,"s":"T","m":4.88,"e":0.2},{"t":22.75,"s":"T","m":4.88,"e":0.2},{"t":23,"s":"T","m":4.89,"e":0.2},{"t":23.25,"s":"T","m":4.9,"e":0.22},{"t":23.5,"s":"T","m":4.91,"e":0.25},{"t":23.75,"s":"T","m":4.93,"e":0.25},{"t":24,"s":"T","m":4.95,"e":0.25}
]
},
"resolve": {"scale": {"color": "independent", "fill": "independent", "shape": "independent"}, "legend": {"color": "independent", "fill": "independent", "shape": "independent"}},
"spacing": 11,
"vconcat": [
{
"hconcat": [
{
"width": 289, "height": 218,
"data": {"name": "a"},
"title": {"text": "(a)", "anchor": "end", "offset": -43, "dx": -7, "fontSize": 16, "fontWeight": "bold", "baseline": "alphabetic", "color": "#000", "font": "Liberation Sans"},
"encoding": {
  "x": {"field": "t", "type": "quantitative", "scale": {"domain": [0, 24], "nice": false}, "axis": {"values": [0,2,4,6,8,10,12,14,16,18,20,22,24], "title": null}},
  "y": {"field": "m", "type": "quantitative", "scale": {"domain": [0, 1000], "nice": false}, "axis": {"values": [0,200,400,600,800,1000], "format": "d", "title": "CO (ppbv)", "titlePadding": 8}}
},
"layer": [
  {"mark": {"type": "errorbar", "thickness": 1, "ticks": {"size": 7, "opacity": 0.75}, "rule": {"opacity": 0.75}}, "encoding": {"yError": {"field": "e"}, "color": {"field": "s", "type": "nominal", "scale": {"range": ["#0000ff","#008000","#ff0000"]}, "legend": null}}},
  {"mark": {"type": "line", "strokeWidth": 1.5}, "encoding": {"color": {"field": "s", "type": "nominal", "legend": null}}},
  {"transform": [{"filter": "datum.s == 'P'"}], "mark": {"type": "point", "shape": "triangle-up", "filled": true, "size": 30, "opacity": 1}, "encoding": {"color": {"field": "s", "type": "nominal", "legend": null}}},
  {"transform": [{"filter": "datum.s == 'L'"}], "mark": {"type": "point", "shape": "M0,-1L0.235,-0.324L0.951,-0.309L0.38,0.124L0.588,0.809L0,0.4L-0.588,0.809L-0.38,0.124L-0.951,-0.309L-0.235,-0.324Z", "filled": true, "size": 50, "opacity": 1}, "encoding": {"color": {"field": "s", "type": "nominal", "legend": null}}},
  {"transform": [{"filter": "datum.s == 'T'"}], "mark": {"type": "point", "shape": "circle", "filled": true, "size": 45, "opacity": 1}, "encoding": {"color": {"field": "s", "type": "nominal", "legend": null}}},
  {"transform": [{"filter": "datum.t < 0"}], "mark": {"type": "point", "filled": true, "opacity": 1},
   "encoding": {
     "fill": {"field": "s", "type": "nominal", "scale": {"domain": ["P","L","T"], "range": ["#008000","#0000ff","#ff0000"]}, "legend": {"labelExpr": "datum.label == 'P' ? 'Pre-lockdown days' : datum.label == 'L' ? 'Lockdown days' : 'Triple-lockdown days'", "labelColor": {"expr": "datum.value == 'P' ? '#008000' : datum.value == 'L' ? '#0000ff' : '#ff0000'"}}},
     "shape": {"field": "s", "type": "nominal", "scale": {"domain": ["P","L","T"], "range": ["M-1,-0.1H2.79V0.1H-1ZM0.49,0.33L0.89,-0.4L1.29,0.33Z", "M-1,-0.1H2.79V0.1H-1ZM0.89,-0.53L1.013,-0.17L1.394,-0.164L1.09,0.065L1.202,0.429L0.89,0.21L0.578,0.429L0.69,0.065L0.386,-0.164L0.767,-0.17Z", "M-1,-0.1H2.79V0.1H-1ZM0.42,0A0.47,0.47 0 1,1 1.36,0A0.47,0.47 0 1,1 0.42,0Z"]}, "legend": {"labelExpr": "datum.label == 'P' ? 'Pre-lockdown days' : datum.label == 'L' ? 'Lockdown days' : 'Triple-lockdown days'", "labelColor": {"expr": "datum.value == 'P' ? '#008000' : datum.value == 'L' ? '#0000ff' : '#ff0000'"}}}
   }}
]
},
{
"width": 289, "height": 218,
"data": {"name": "b"},
"title": {"text": "(b)", "anchor": "end", "offset": -43, "dx": -7, "fontSize": 16, "fontWeight": "bold", "baseline": "alphabetic", "color": "#000", "font": "Liberation Sans"},
"encoding": {
  "x": {"field": "t", "type": "quantitative", "scale": {"domain": [0, 24], "nice": false}, "axis": {"values": [0,2,4,6,8,10,12,14,16,18,20,22,24], "title": null}},
  "y": {"field": "m", "type": "quantitative", "scale": {"domain": [0, 15], "nice": false}, "axis": {"values": [0,3,6,9,12,15], "title": "BTEX (ppbv)", "titlePadding": -2}}
},
"layer": [
  {"mark": {"type": "errorbar", "thickness": 1, "ticks": {"size": 7, "opacity": 0.75}, "rule": {"opacity": 0.75}}, "encoding": {"yError": {"field": "e"}, "color": {"field": "s", "type": "nominal", "scale": {"range": ["#0000ff","#008000","#ff0000"]}, "legend": null}}},
  {"mark": {"type": "line", "strokeWidth": 1.5}, "encoding": {"color": {"field": "s", "type": "nominal", "legend": null}}},
  {"transform": [{"filter": "datum.s == 'P'"}], "mark": {"type": "point", "shape": "triangle-up", "filled": true, "size": 30, "opacity": 1}, "encoding": {"color": {"field": "s", "type": "nominal", "legend": null}}},
  {"transform": [{"filter": "datum.s == 'L'"}], "mark": {"type": "point", "shape": "M0,-1L0.235,-0.324L0.951,-0.309L0.38,0.124L0.588,0.809L0,0.4L-0.588,0.809L-0.38,0.124L-0.951,-0.309L-0.235,-0.324Z", "filled": true, "size": 50, "opacity": 1}, "encoding": {"color": {"field": "s", "type": "nominal", "legend": null}}},
  {"transform": [{"filter": "datum.s == 'T'"}], "mark": {"type": "point", "shape": "circle", "filled": true, "size": 45, "opacity": 1}, "encoding": {"color": {"field": "s", "type": "nominal", "legend": null}}},
  {"transform": [{"filter": "datum.t < 0"}], "mark": {"type": "point", "filled": true, "opacity": 1},
   "encoding": {
     "fill": {"field": "s", "type": "nominal", "scale": {"domain": ["P","L","T"], "range": ["#008000","#0000ff","#ff0000"]}, "legend": {"labelExpr": "datum.label == 'P' ? 'Pre-lockdown days' : datum.label == 'L' ? 'Lockdown days' : 'Triple-lockdown days'", "labelColor": {"expr": "datum.value == 'P' ? '#008000' : datum.value == 'L' ? '#0000ff' : '#ff0000'"}}},
     "shape": {"field": "s", "type": "nominal", "scale": {"domain": ["P","L","T"], "range": ["M-1,-0.1H2.79V0.1H-1ZM0.49,0.33L0.89,-0.4L1.29,0.33Z", "M-1,-0.1H2.79V0.1H-1ZM0.89,-0.53L1.013,-0.17L1.394,-0.164L1.09,0.065L1.202,0.429L0.89,0.21L0.578,0.429L0.69,0.065L0.386,-0.164L0.767,-0.17Z", "M-1,-0.1H2.79V0.1H-1ZM0.42,0A0.47,0.47 0 1,1 1.36,0A0.47,0.47 0 1,1 0.42,0Z"]}, "legend": {"labelExpr": "datum.label == 'P' ? 'Pre-lockdown days' : datum.label == 'L' ? 'Lockdown days' : 'Triple-lockdown days'", "labelColor": {"expr": "datum.value == 'P' ? '#008000' : datum.value == 'L' ? '#0000ff' : '#ff0000'"}}}
   }}
]
}
],
"spacing": 15,
"resolve": {"scale": {"color": "independent", "fill": "independent", "shape": "independent"}, "legend": {"color": "independent", "fill": "independent", "shape": "independent"}}
},
{
"hconcat": [
{
"width": 289, "height": 218,
"data": {"name": "c"},
"title": {"text": "(c)", "anchor": "end", "offset": -43, "dx": -7, "fontSize": 16, "fontWeight": "bold", "baseline": "alphabetic", "color": "#000", "font": "Liberation Sans"},
"encoding": {
  "x": {"field": "t", "type": "quantitative", "scale": {"domain": [0, 24], "nice": false}, "axis": {"values": [0,2,4,6,8,10,12,14,16,18,20,22,24], "title": "Time (IST)"}},
  "y": {"field": "m", "type": "quantitative", "scale": {"domain": [0, 5], "nice": false}, "axis": {"values": [0,1,2,3,4,5], "title": "SO₂ (ppbv)", "titlePadding": 25.5}}
},
"layer": [
  {"mark": {"type": "errorbar", "thickness": 1, "ticks": {"size": 7, "opacity": 0.75}, "rule": {"opacity": 0.75}}, "encoding": {"yError": {"field": "e"}, "color": {"field": "s", "type": "nominal", "scale": {"range": ["#0000ff","#008000","#ff0000"]}, "legend": null}}},
  {"mark": {"type": "line", "strokeWidth": 1.5}, "encoding": {"color": {"field": "s", "type": "nominal", "legend": null}}},
  {"transform": [{"filter": "datum.s == 'P'"}], "mark": {"type": "point", "shape": "triangle-up", "filled": true, "size": 30, "opacity": 1}, "encoding": {"color": {"field": "s", "type": "nominal", "legend": null}}},
  {"transform": [{"filter": "datum.s == 'L'"}], "mark": {"type": "point", "shape": "M0,-1L0.235,-0.324L0.951,-0.309L0.38,0.124L0.588,0.809L0,0.4L-0.588,0.809L-0.38,0.124L-0.951,-0.309L-0.235,-0.324Z", "filled": true, "size": 50, "opacity": 1}, "encoding": {"color": {"field": "s", "type": "nominal", "legend": null}}},
  {"transform": [{"filter": "datum.s == 'T'"}], "mark": {"type": "point", "shape": "circle", "filled": true, "size": 45, "opacity": 1}, "encoding": {"color": {"field": "s", "type": "nominal", "legend": null}}},
  {"transform": [{"filter": "datum.t < 0"}], "mark": {"type": "point", "filled": true, "opacity": 1},
   "encoding": {
     "fill": {"field": "s", "type": "nominal", "scale": {"domain": ["P","L","T"], "range": ["#008000","#0000ff","#ff0000"]}, "legend": {"labelExpr": "datum.label == 'P' ? 'Pre -lockdown days' : datum.label == 'L' ? 'Lockdown days' : 'Triple-lockdown days'", "labelColor": {"expr": "datum.value == 'P' ? '#008000' : datum.value == 'L' ? '#0000ff' : '#ff0000'"}}},
     "shape": {"field": "s", "type": "nominal", "scale": {"domain": ["P","L","T"], "range": ["M-1,-0.1H2.79V0.1H-1ZM0.49,0.33L0.89,-0.4L1.29,0.33Z", "M-1,-0.1H2.79V0.1H-1ZM0.89,-0.53L1.013,-0.17L1.394,-0.164L1.09,0.065L1.202,0.429L0.89,0.21L0.578,0.429L0.69,0.065L0.386,-0.164L0.767,-0.17Z", "M-1,-0.1H2.79V0.1H-1ZM0.42,0A0.47,0.47 0 1,1 1.36,0A0.47,0.47 0 1,1 0.42,0Z"]}, "legend": {"labelExpr": "datum.label == 'P' ? 'Pre -lockdown days' : datum.label == 'L' ? 'Lockdown days' : 'Triple-lockdown days'", "labelColor": {"expr": "datum.value == 'P' ? '#008000' : datum.value == 'L' ? '#0000ff' : '#ff0000'"}}}
   }}
]
},
{
"width": 289, "height": 218,
"data": {"name": "d"},
"title": {"text": "(d)", "anchor": "end", "offset": -43, "dx": -7, "fontSize": 16, "fontWeight": "bold", "baseline": "alphabetic", "color": "#000", "font": "Liberation Sans"},
"encoding": {
  "x": {"field": "t", "type": "quantitative", "scale": {"domain": [0, 24], "nice": false}, "axis": {"values": [0,2,4,6,8,10,12,14,16,18,20,22,24], "title": "Time (IST)"}},
  "y": {"field": "m", "type": "quantitative", "scale": {"domain": [4, 7], "nice": false, "zero": false}, "axis": {"values": [4,4.5,5,5.5,6,6.5,7], "format": ".1f", "title": "NH₃ (ppbv)", "titlePadding": 1}}
},
"layer": [
  {"mark": {"type": "errorbar", "thickness": 1, "ticks": {"size": 7, "opacity": 0.75}, "rule": {"opacity": 0.75}}, "encoding": {"yError": {"field": "e"}, "color": {"field": "s", "type": "nominal", "scale": {"range": ["#0000ff","#008000","#ff0000"]}, "legend": null}}},
  {"mark": {"type": "line", "strokeWidth": 1.5}, "encoding": {"color": {"field": "s", "type": "nominal", "legend": null}}},
  {"transform": [{"filter": "datum.s == 'P'"}], "mark": {"type": "point", "shape": "triangle-up", "filled": true, "size": 30, "opacity": 1}, "encoding": {"color": {"field": "s", "type": "nominal", "legend": null}}},
  {"transform": [{"filter": "datum.s == 'L'"}], "mark": {"type": "point", "shape": "M0,-1L0.235,-0.324L0.951,-0.309L0.38,0.124L0.588,0.809L0,0.4L-0.588,0.809L-0.38,0.124L-0.951,-0.309L-0.235,-0.324Z", "filled": true, "size": 50, "opacity": 1}, "encoding": {"color": {"field": "s", "type": "nominal", "legend": null}}},
  {"transform": [{"filter": "datum.s == 'T'"}], "mark": {"type": "point", "shape": "circle", "filled": true, "size": 45, "opacity": 1}, "encoding": {"color": {"field": "s", "type": "nominal", "legend": null}}},
  {"transform": [{"filter": "datum.t < 0"}], "mark": {"type": "point", "filled": true, "opacity": 1},
   "encoding": {
     "fill": {"field": "s", "type": "nominal", "scale": {"domain": ["P","L","T"], "range": ["#008000","#0000ff","#ff0000"]}, "legend": {"labelExpr": "datum.label == 'P' ? 'Pre-lockdown days' : datum.label == 'L' ? 'Lockdown days' : 'Triple-lockdown days'", "labelColor": {"expr": "datum.value == 'P' ? '#008000' : datum.value == 'L' ? '#0000ff' : '#ff0000'"}}},
     "shape": {"field": "s", "type": "nominal", "scale": {"domain": ["P","L","T"], "range": ["M-1,-0.1H2.79V0.1H-1ZM0.49,0.33L0.89,-0.4L1.29,0.33Z", "M-1,-0.1H2.79V0.1H-1ZM0.89,-0.53L1.013,-0.17L1.394,-0.164L1.09,0.065L1.202,0.429L0.89,0.21L0.578,0.429L0.69,0.065L0.386,-0.164L0.767,-0.17Z", "M-1,-0.1H2.79V0.1H-1ZM0.42,0A0.47,0.47 0 1,1 1.36,0A0.47,0.47 0 1,1 0.42,0Z"]}, "legend": {"labelExpr": "datum.label == 'P' ? 'Pre-lockdown days' : datum.label == 'L' ? 'Lockdown days' : 'Triple-lockdown days'", "labelColor": {"expr": "datum.value == 'P' ? '#008000' : datum.value == 'L' ? '#0000ff' : '#ff0000'"}}}
   }}
]
}
],
"spacing": 9,
"resolve": {"scale": {"color": "independent", "fill": "independent", "shape": "independent"}, "legend": {"color": "independent", "fill": "independent", "shape": "independent"}}
}
]
}
